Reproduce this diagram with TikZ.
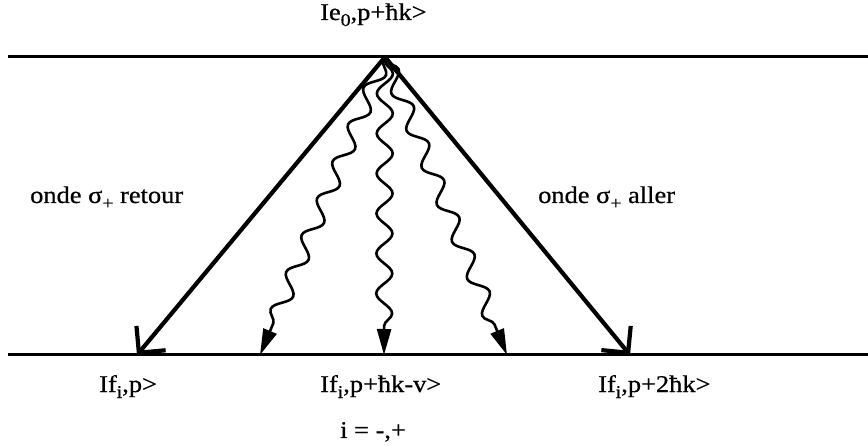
\documentclass[tikz,border=0pt]{standalone}
\usepackage{fontspec}
\setmainfont[FakeStretch=1.1,FakeBold=0.6]{Liberation Serif}
\usetikzlibrary{arrows.meta,decorations.pathmorphing}
\newcommand{\lowsub}[1]{\raisebox{-6pt}{\fontsize{18}{20}\selectfont #1}}
\begin{document}
\begin{tikzpicture}[x=1pt,y=-1pt,
  lbl/.style={anchor=base west,inner sep=0pt,font=\fontsize{24}{28}\selectfont},
  level/.style={line width=3pt},
  beam/.style={line width=4.2pt,-{Straight Barb[length=19pt,width=38pt]}},
  photon/.style={line width=2.6pt,decorate,
    decoration={snake,amplitude=8pt,segment length=40pt,pre length=4pt,post length=24pt},
    -{Triangle[length=26pt,width=14pt]}}]
\useasboundingbox (0,0) rectangle (868,446);
% levels
\coordinate (tl) at (8,57);
\coordinate (tr) at (868,57);
\coordinate (bl) at (8,355);
\coordinate (br) at (868,355);
\draw[level] (tl) -- (tr);
\draw[level] (bl) -- (br);
% apex and targets
\coordinate (apex) at (385,57);
\coordinate (fL) at (137,355);
\coordinate (wL) at (260,355);
\coordinate (wM) at (384,355);
\coordinate (wR) at (507,355);
\coordinate (fR) at (630,355);
\draw[beam] (apex) -- (fL);
\draw[beam] (apex) -- (fR);
\draw[photon] (apex) -- (wL);
\draw[photon] (apex) -- (wM);
\draw[photon] (apex) -- (wR);
% labels
\node[lbl] (top) at (320,20) {Ie\lowsub{0},p+ħk>};
\node[lbl] (ret) at (30,203) {onde σ\lowsub{+} retour};
\node[lbl] (all) at (538,203) {onde σ\lowsub{+} aller};
\node[lbl] (b1) at (99,392) {If\lowsub{i},p>};
\node[lbl] (b2) at (320,392) {If\lowsub{i},p+ħk-v>};
\node[lbl] (b3) at (598,392) {If\lowsub{i},p+2ħk>};
\node[lbl] (ii) at (340,438) {i = -,+};
\end{tikzpicture}
\end{document}
